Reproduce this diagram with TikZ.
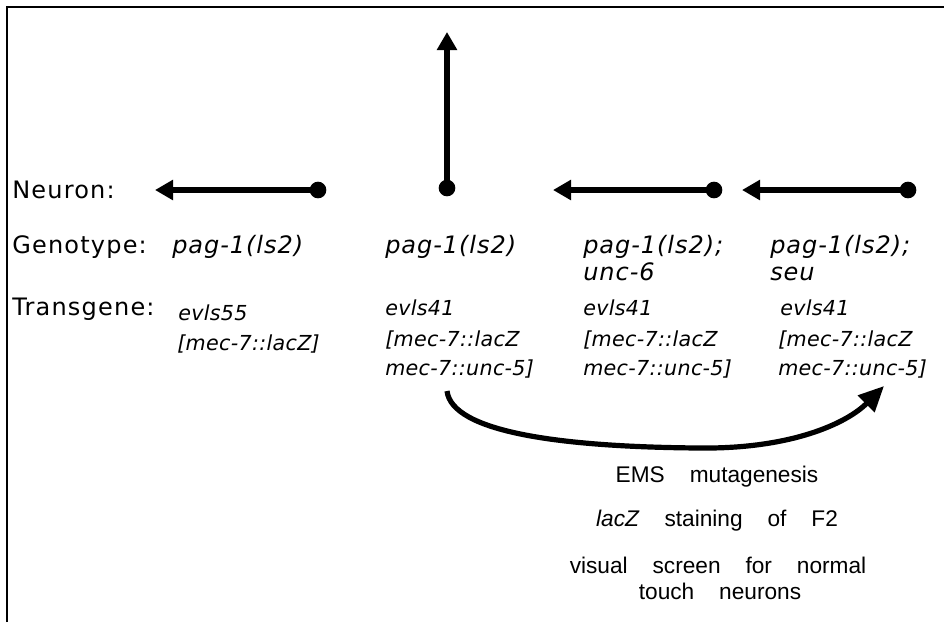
\documentclass[tikz,border=0pt]{standalone}
\usepackage{fontspec}
\usetikzlibrary{arrows.meta}
\setmainfont{DejaVu Sans}
\newfontfamily\labf[LetterSpace=5]{DejaVu Sans}
\newfontfamily\genf[LetterSpace=4]{DejaVu Sans Oblique}
\newfontfamily\tgf[LetterSpace=1.5]{DejaVu Sans Oblique}
\newfontfamily\botf{Liberation Sans}
\newcommand\wsp{\hspace{1.1em}}
\tikzset{
  lbl/.style={anchor=base west, inner sep=0pt, font=\labf\fontsize{18}{22}\selectfont},
  gt/.style={anchor=base west, inner sep=0pt, font=\genf\fontsize{18}{22}\selectfont},
  tg/.style={anchor=base west, inner sep=0pt, font=\tgf\fontsize{15.5}{19}\selectfont},
  bt/.style={anchor=base, inner sep=0pt, font=\botf\fontsize{17}{20}\selectfont},
  neur/.style={line width=3.9pt, -{Triangle[length=13.5pt,width=14.5pt]}},
  soma/.style={circle, fill=black, inner sep=0pt, minimum size=12.5pt},
  frame/.style={line width=1.5pt},
  screen/.style={line width=3.9pt, -{Triangle[length=19pt,width=17pt]}}
}
\begin{document}
\begin{tikzpicture}[x=0.75pt,y=-0.75pt]
\useasboundingbox (0,0) rectangle (944,622);
% frame
\coordinate (fb) at (7,622);
\coordinate (fc) at (7,7);
\coordinate (fr) at (944,7);
\draw[frame] (fb) -- (fc) -- (fr);

% row labels
\node[lbl] (lneuron) at (12,198) {Neuron:};
\node[lbl] (lgeno) at (12,253) {Genotype:};
\node[lbl] (ltrans) at (12,315) {Transgene:};

% neurons
\node[soma] (d1) at (318,190) {};
\coordinate (t1) at (155,190);
\draw[neur] (d1.center) -- (t1);

\node[soma] (d2) at (447,188) {};
\coordinate (t2) at (447,32);
\draw[neur] (d2.center) -- (t2);

\node[soma] (d3) at (714,190) {};
\coordinate (t3) at (553,190);
\draw[neur] (d3.center) -- (t3);

\node[soma] (d4) at (908,190) {};
\coordinate (t4) at (742,190);
\draw[neur] (d4.center) -- (t4);

% genotypes
\node[gt] (g1) at (172,253) {pag-1(ls2)};
\node[gt] (g2) at (385,253) {pag-1(ls2)};
\node[gt] (g3a) at (583,253) {pag-1(ls2);};
\node[gt] (g3b) at (583,280) {unc-6};
\node[gt] (g4a) at (770,253) {pag-1(ls2);};
\node[gt] (g4b) at (770,280) {seu};

% transgenes
\node[tg] (tr1a) at (178,320) {evls55};
\node[tg] (tr1b) at (177,350) {[mec-7::lacZ]};
\node[tg] (tr2a) at (385,315) {evls41};
\node[tg] (tr2b) at (385,346) {[mec-7::lacZ};
\node[tg] (tr2c) at (385,375) {mec-7::unc-5]};
\node[tg] (tr3a) at (583,315) {evls41};
\node[tg] (tr3b) at (583,346) {[mec-7::lacZ};
\node[tg] (tr3c) at (583,375) {mec-7::unc-5]};
\node[tg] (tr4a) at (780,315) {evls41};
\node[tg] (tr4b) at (778,346) {[mec-7::lacZ};
\node[tg] (tr4c) at (778,375) {mec-7::unc-5]};

% screen arrow
\coordinate (cs) at (447,391);
\coordinate (cm) at (700,448);
\coordinate (ce) at (884,386);
\draw[screen] (cs) .. controls (452,432) and (560,447) .. (cm)
              .. controls (790,449) and (846,424) .. (ce);

% screen text
\node[bt] (s1) at (717,482) {EMS\wsp mutagenesis};
\node[bt] (s2) at (717,526) {\textit{lacZ}\wsp staining\wsp of\wsp F2};
\node[bt] (s3) at (718,573) {visual\wsp screen\wsp for\wsp normal};
\node[bt] (s4) at (720,599) {touch\wsp neurons};
\end{tikzpicture}
\end{document}
